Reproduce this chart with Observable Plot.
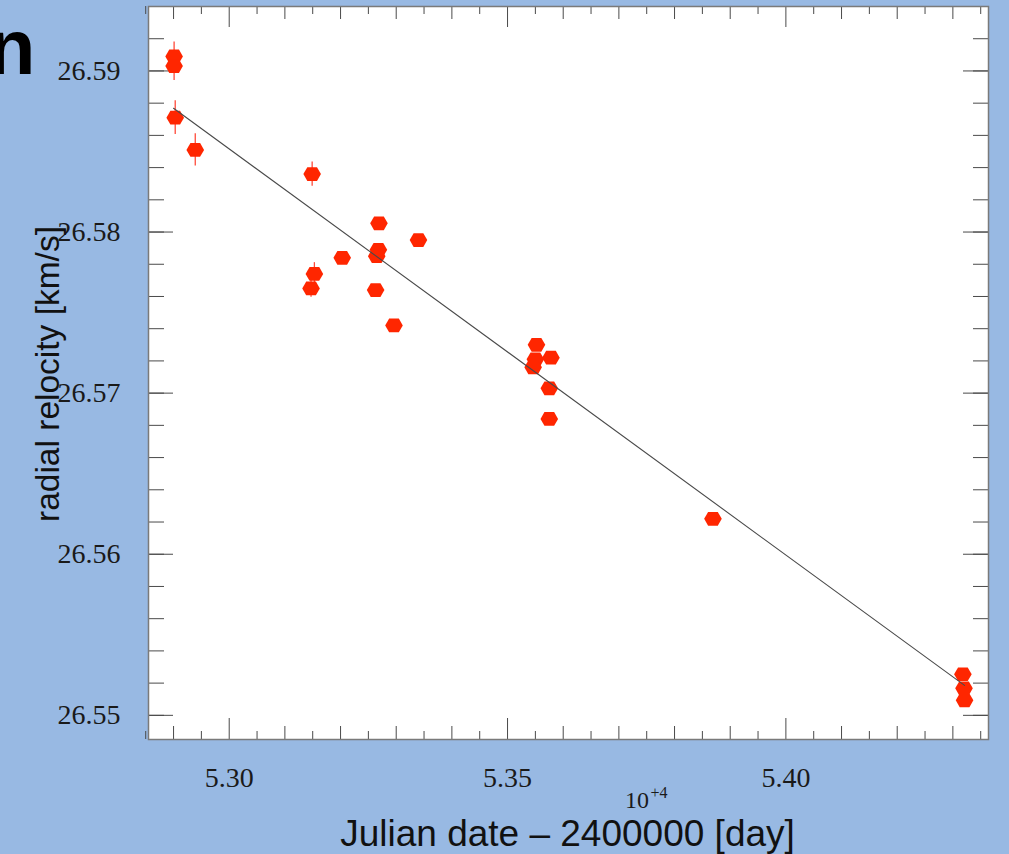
<!DOCTYPE html>
<html>
<head>
<meta charset="utf-8">
<script src="https://cdn.jsdelivr.net/npm/d3@7"></script>
<script src="https://cdn.jsdelivr.net/npm/@observablehq/plot@0.6"></script>
<style>
  html, body { margin: 0; padding: 0; background: #98b9e3; }
  #chart svg { display: block; }
</style>
</head>
<body>
<div id="chart"></div>
<script>
// Julian date - 2400000, in units of 10^4 days
const jd = [5.2901, 5.2901, 5.2903, 5.2939, 5.3149, 5.3269, 5.3340, 5.3268, 5.3265, 5.3203,
            5.3153, 5.3147, 5.3263, 5.3296, 5.3552, 5.3578, 5.3550, 5.3546, 5.3575, 5.3575,
            5.3869, 5.4318, 5.4320, 5.4321];
// radial velocity [km/s]
const rv = [26.5909, 26.5903, 26.5871, 26.5851, 26.5836, 26.58054, 26.5795, 26.5789, 26.5785, 26.5784,
            26.5774, 26.5765, 26.5764, 26.5742, 26.5730, 26.5722, 26.5721, 26.5716, 26.5703, 26.5684,
            26.5622, 26.55255, 26.55168, 26.55093];
// radial velocity uncertainty [km/s]
const rvErr = [0.0009, 0.0009, 0.00105, 0.001, 0.00075, 0.0003, 0.0003, 0.0003, 0.0003, 0.0003,
               0.0007, 0.00055, 0.0003, 0.0003, 0.0003, 0.0003, 0.0003, 0.0003, 0.0003, 0.0003,
               0.0003, 0.0003, 0.0003, 0.0003];
// linear fit end points
const fitX = [5.2900, 5.4321];
const fitY = [26.58768, 26.55186];

// tick values
const xLabelTicks = [5.30, 5.35, 5.40];
const xMidTicks = d3.range(5.29, 5.4351, 0.01).map(v => +v.toFixed(3));
const xSmallTicks = d3.range(5.285, 5.4351, 0.01).map(v => +v.toFixed(3));
const yLabelTicks = [26.55, 26.56, 26.57, 26.58, 26.59];
const yMinorTicks = d3.range(26.550, 26.5941, 0.002).map(v => +v.toFixed(3));

const xTitle = "Julian date \u2013 2400000 [day]";
const yTitle = "radial relocity [km/s]";
const titleFrag = "n";
const multBase = "10";
const multExp = "+4";

const points = jd.map((x, i) => ({x, y: rv[i], e: rvErr[i]}));
const fit = fitX.map((x, i) => ({x, y: fitY[i]}));

const W = 1009, H = 854;
const mL = 148, mR = 21, mT = 6, mB = 115;
const pw = W - mL - mR, ph = H - mT - mB;

const hexFlat = {
  draw(context, size) {
    const r = Math.sqrt(size / Math.PI);
    const rx = r, ry = r * 0.78, hx = rx * 0.55;
    context.moveTo(rx, 0);
    context.lineTo(hx, ry);
    context.lineTo(-hx, ry);
    context.lineTo(-rx, 0);
    context.lineTo(-hx, -ry);
    context.lineTo(hx, -ry);
    context.closePath();
  }
};

const tickCol = "#4a4a4a";
const serif = "Liberation Serif, Times New Roman, serif";
const sans = "Liberation Sans, Arial, sans-serif";
const notMajor = v => !xLabelTicks.some(t => Math.abs(t - v) < 1e-6);

const chart = Plot.plot({
  width: W, height: H,
  marginLeft: mL, marginRight: mR, marginTop: mT, marginBottom: mB,
  style: {background: "#98b9e3", overflow: "visible"},
  x: {domain: [5.2855, 5.4364], axis: null},
  y: {domain: [26.5485, 26.5940], axis: null},
  marks: [
    Plot.frame({fill: "white", stroke: "none"}),
    // bottom ticks
    Plot.tickX(xSmallTicks, {x: d => d, insetTop: ph - 8, stroke: tickCol}),
    Plot.tickX(xMidTicks.filter(notMajor), {x: d => d, insetTop: ph - 13, stroke: tickCol}),
    Plot.tickX(xLabelTicks, {x: d => d, insetTop: ph - 21, stroke: tickCol}),
    // top ticks
    Plot.tickX(xSmallTicks, {x: d => d, insetBottom: ph - 8, stroke: tickCol}),
    Plot.tickX(xMidTicks.filter(notMajor), {x: d => d, insetBottom: ph - 13, stroke: tickCol}),
    Plot.tickX(xLabelTicks, {x: d => d, insetBottom: ph - 21, stroke: tickCol}),
    // left ticks
    Plot.tickY(yMinorTicks, {y: d => d, insetRight: pw - 16, stroke: tickCol}),
    Plot.tickY(yLabelTicks, {y: d => d, insetRight: pw - 25, stroke: tickCol}),
    // right ticks
    Plot.tickY(yMinorTicks, {y: d => d, insetLeft: pw - 15, stroke: tickCol}),
    Plot.tickY(yLabelTicks, {y: d => d, insetLeft: pw - 25, stroke: tickCol}),
    Plot.frame({stroke: "#7a7a7a", strokeWidth: 1.5}),
    // error bars
    Plot.ruleX(points, {x: "x", y1: d => d.y - d.e, y2: d => d.y + d.e, stroke: "#ff4a3a", strokeWidth: 1.3}),
    // data points
    Plot.dot(points, {x: "x", y: "y", symbol: hexFlat, r: 8.8, fill: "#ff2600", stroke: "none"}),
    // fit line
    Plot.line(fit, {x: "x", y: "y", stroke: "#4a4a4a", strokeWidth: 1.1}),
    // tick labels
    Plot.text(xLabelTicks, {x: d => d, frameAnchor: "bottom", dy: 39, text: d => d.toFixed(2),
      fontFamily: serif, fontSize: 28, fill: "#1a1a1a", lineAnchor: "middle"}),
    Plot.text(yLabelTicks, {y: d => d, frameAnchor: "left", dx: -28, textAnchor: "end", text: d => d.toFixed(2),
      fontFamily: serif, fontSize: 28, fill: "#1a1a1a", lineAnchor: "middle"}),
    // 10^+4 multiplier
    Plot.text([multBase], {frameAnchor: "bottom", dx: 68.5, dy: 68, text: d => d, fontFamily: serif, fontSize: 24,
      fill: "#1a1a1a", lineAnchor: "bottom"}),
    Plot.text([multExp], {frameAnchor: "bottom", dx: 82, dy: 58, textAnchor: "start", text: d => d, fontFamily: serif,
      fontSize: 16, fill: "#1a1a1a", lineAnchor: "bottom"}),
    // axis titles
    Plot.text([xTitle], {frameAnchor: "bottom", dx: -1, dy: 106, text: d => d, fontFamily: sans, fontSize: 37,
      fill: "#111", lineAnchor: "bottom"}),
    Plot.text([yTitle], {frameAnchor: "left", dx: -100, dy: 1, rotate: -90, textAnchor: "middle", text: d => d,
      fontFamily: sans, fontSize: 33.5, fill: "#111", lineAnchor: "middle"}),
    // clipped title fragment
    Plot.text([titleFrag], {frameAnchor: "top-left", dx: -113, dy: 67, textAnchor: "end", text: d => d,
      fontFamily: sans, fontSize: 78, fontWeight: "bold", fill: "#000", lineAnchor: "bottom"})
  ]
});

document.getElementById("chart").appendChild(chart);
</script>
</body>
</html>
